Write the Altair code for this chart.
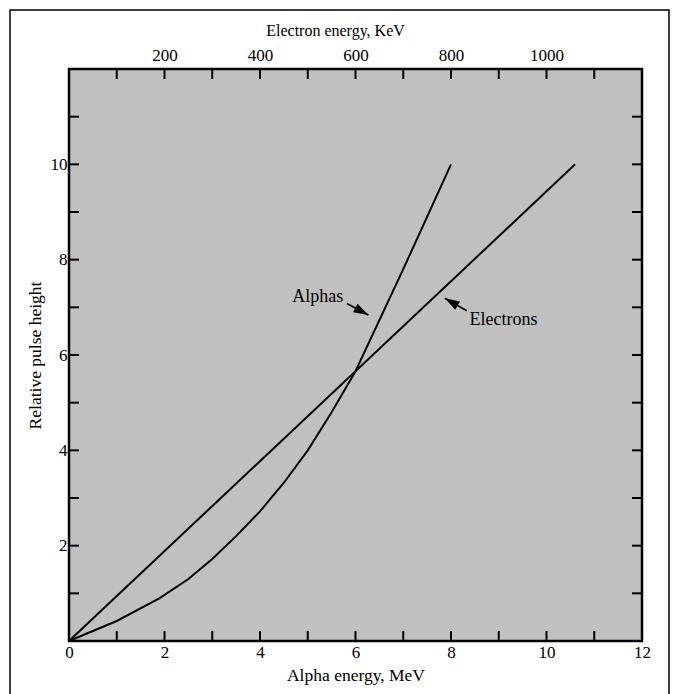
import altair as alt
import pandas as pd

# Alpha response: alpha energy (MeV) vs relative pulse height
alpha_mev = [0, 1.0, 1.9, 2.5, 3.0, 3.5, 4.0, 4.5, 5.0, 5.5, 6.0, 7.0, 8.0]
alpha_pulse = [0, 0.42, 0.9, 1.3, 1.72, 2.2, 2.72, 3.32, 4.0, 4.8, 5.66, 7.8, 10.0]

# Electron response: electron energy (KeV) vs relative pulse height
electron_kev = [0, 1060]
electron_pulse = [0, 10]

# Axis tick positions and labels
alpha_ticks = list(range(1, 12))
alpha_labels = [0, 2, 4, 6, 8, 10, 12]
kev_ticks = list(range(100, 1200, 100))
kev_labels = [200, 400, 600, 800, 1000]
pulse_ticks = list(range(1, 12))
pulse_labels = [2, 4, 6, 8, 10]

# Curve annotations (alpha-energy units)
note_text = ["Alphas", "Electrons"]
note_x = [5.21, 9.10]
note_y = [7.22, 6.73]
arrow_x0 = [5.82, 8.33]
arrow_y0 = [7.08, 6.93]
arrow_x1 = [6.27, 7.87]
arrow_y1 = [6.84, 7.19]
arrow_angle = [118, 300]

W, H = 573, 572
TICK = 10
FONT = "Liberation Serif"

x_axis = alt.Axis(
    values=alpha_labels, title="Alpha energy, MeV", orient="bottom", format="d",
    ticks=False, domain=False, grid=False, labelFlush=False,
    labelOverlap=False, labelBound=False, labelPadding=3,
    labelFontSize=17, titleFontSize=17.5, titlePadding=6,
)
kev_axis = alt.Axis(
    values=kev_labels, title="Electron energy, KeV", orient="top", format="d",
    ticks=False, domain=False, grid=False, labelFlush=False,
    labelOverlap=False, labelBound=False, labelPadding=5,
    labelFontSize=17, titleFontSize=16, titlePadding=8,
    titleX=266, titleAlign="center",
)
y_axis = alt.Axis(
    values=pulse_labels, title="Relative pulse height", orient="left", format="d",
    ticks=False, domain=False, grid=False, labelFlush=False,
    labelOverlap=False, labelBound=False, labelPadding=2,
    labelFontSize=17, titleFontSize=17.5, titlePadding=6,
)


def xa(field):
    return alt.X(field, type="quantitative", scale=alt.Scale(domain=[0, 12], nice=False, zero=False), axis=x_axis)


def xk(field):
    return alt.X(field, type="quantitative", scale=alt.Scale(domain=[0, 1200], nice=False, zero=False), axis=kev_axis)


def yp(field):
    return alt.Y(field, type="quantitative", scale=alt.Scale(domain=[0, 12], nice=False, zero=False), axis=y_axis)


alpha_df = pd.DataFrame({"alpha": alpha_mev, "pulse": alpha_pulse})
electron_df = pd.DataFrame({"kev": electron_kev, "pulse": electron_pulse})
notes_df = pd.DataFrame({"alpha": note_x, "pulse": note_y, "text": note_text})
arrows_df = pd.DataFrame({
    "alpha": arrow_x0, "pulse": arrow_y0,
    "alpha2": arrow_x1, "pulse2": arrow_y1,
    "ang": arrow_angle,
})
heads_df = pd.DataFrame({"alpha": arrow_x1, "pulse": arrow_y1, "ang": arrow_angle})

alpha_line = alt.Chart(alpha_df).mark_line(color="black", strokeWidth=2).encode(
    x=xa("alpha"), y=yp("pulse")
)

bottom_ticks = alt.Chart(pd.DataFrame({"alpha": alpha_ticks})).mark_rule(
    color="black", strokeWidth=2
).encode(x=xa("alpha"), y=alt.value(H), y2=alt.value(H - TICK))

left_ticks = alt.Chart(pd.DataFrame({"pulse": pulse_ticks})).mark_rule(
    color="black", strokeWidth=2
).encode(y=yp("pulse"), x=alt.value(0), x2=alt.value(TICK))

right_ticks = alt.Chart(pd.DataFrame({"pulse": pulse_ticks})).mark_rule(
    color="black", strokeWidth=2
).encode(y=yp("pulse"), x=alt.value(W - TICK), x2=alt.value(W))

notes = alt.Chart(notes_df).mark_text(
    font=FONT, fontSize=18, color="black", align="center", baseline="middle"
).encode(x=xa("alpha"), y=yp("pulse"), text="text:N")

arrow_lines = alt.Chart(arrows_df).mark_rule(color="black", strokeWidth=1.8).encode(
    x=xa("alpha"), y=yp("pulse"), x2="alpha2:Q", y2="pulse2:Q"
)

arrow_heads = alt.Chart(heads_df).mark_point(
    shape="M0,0L0.65,2L-0.65,2Z", filled=True, color="black", opacity=1, size=220
).encode(x=xa("alpha"), y=yp("pulse"), angle=alt.Angle("ang:Q", scale=None))

frame = alt.Chart(pd.DataFrame({"k": [0]})).mark_rect(
    filled=False, stroke="black", strokeWidth=1.5
).encode(
    x=alt.value(-59), x2=alt.value(600), y=alt.value(-59), y2=alt.value(H + 70)
)

alpha_group = alt.layer(
    frame, alpha_line, bottom_ticks, left_ticks, right_ticks, arrow_lines, arrow_heads, notes
)

electron_line = alt.Chart(electron_df).mark_line(color="black", strokeWidth=2).encode(
    x=xk("kev"), y=yp("pulse")
)
top_ticks = alt.Chart(pd.DataFrame({"kev": kev_ticks})).mark_rule(
    color="black", strokeWidth=2
).encode(x=xk("kev"), y=alt.value(0), y2=alt.value(TICK))

electron_group = alt.layer(electron_line, top_ticks)

chart = alt.layer(alpha_group, electron_group).resolve_scale(
    x="independent"
).properties(
    width=W, height=H,
    autosize=alt.AutoSizeParams(type="none"),
    padding={"left": 69, "top": 69, "right": 36, "bottom": 53},
    background="white",
).configure_view(
    fill="#c0c0c0", stroke="black", strokeWidth=2.5
).configure_axis(
    labelFont=FONT, titleFont=FONT, labelColor="black", titleColor="black",
    titleFontWeight="normal",
)

chart.save("out.html", embed_options={"renderer": "svg", "actions": False})
